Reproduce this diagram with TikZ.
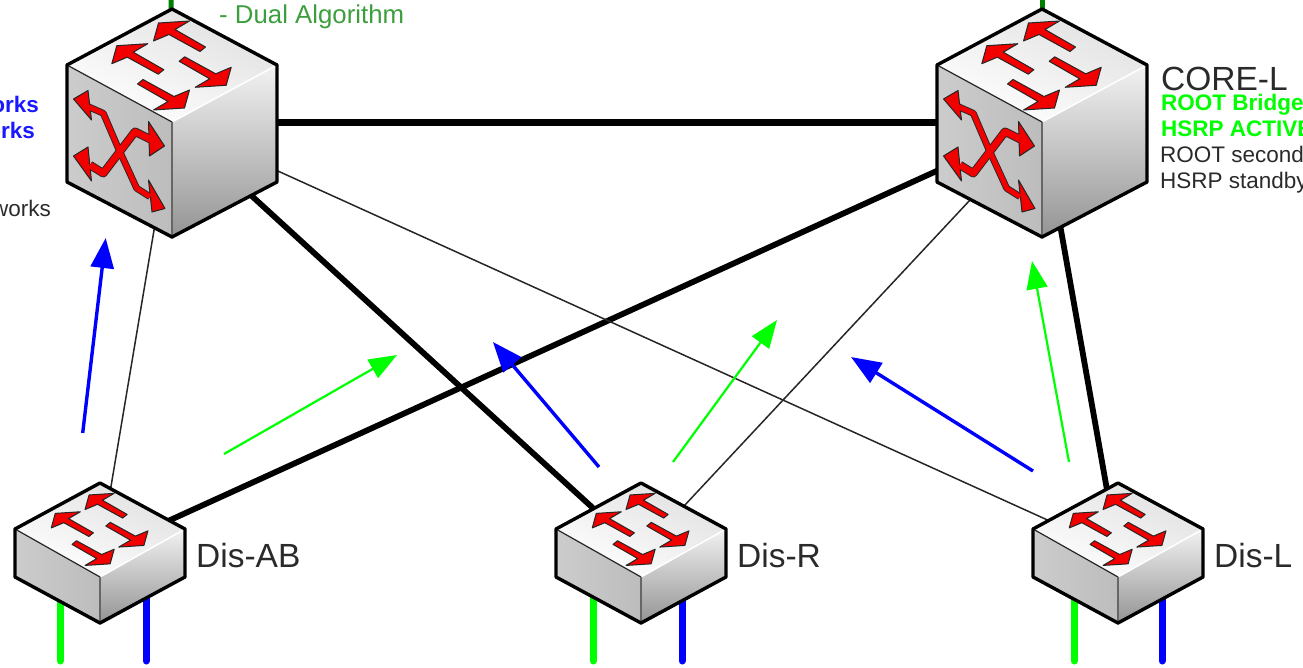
\documentclass[tikz,border=0pt]{standalone}
\usepackage{fontspec}
\setmainfont{Liberation Sans}
\usetikzlibrary{arrows.meta}
\definecolor{swred}{HTML}{F20000}
\definecolor{linegreen}{HTML}{00FF00}
\definecolor{linkblue}{HTML}{0000FF}
\definecolor{txtgreen}{HTML}{3C9E3C}
\definecolor{txtdark}{HTML}{2A2A2A}
\tikzset{
  swpoint/.style={inner sep=0pt,minimum size=0pt},
  trunk/.style={line width=5.8pt},
  uplink/.style={line width=1.5pt,black!85},
  stub/.style={line width=7pt,line cap=round},
  flowblue/.style={line width=3.4pt,linkblue,-{Triangle[length=30pt,width=23pt]}},
  flowgreen/.style={line width=2.2pt,linegreen,-{Triangle[length=28pt,width=21pt]}},
  redtip/.style={fill=swred,draw=black!85,line width=1pt,line join=round},
  bigname/.style={anchor=base west,inner sep=0pt,text=txtdark,font=\fontsize{33.5}{34}\selectfont},
  small/.style={inner sep=0pt,text=txtdark,font=\fontsize{22.5}{23}\selectfont},
  smallbold/.style={inner sep=0pt,font=\fontsize{22.5}{23}\selectfont\bfseries},
}
% #1 half width, #2 top, #3 side, #4 front, #5 low side, #6 bottom
\newcommand{\switchbody}[6]{
  \shade[top color=white!88!black,bottom color=white,shading angle=-25]
    (0,#2) -- (#1,#3) -- (0,#4) -- (-#1,#3) -- cycle;
  \shade[left color=black!20,middle color=black!7,right color=black!26]
    (-#1,#3) -- (0,#4) -- (0,#6) -- (-#1,#5) -- cycle;
  \shade[top color=black!5,middle color=black!16,bottom color=black!42]
    (#1,#3) -- (0,#4) -- (0,#6) -- (#1,#5) -- cycle;
  \draw[line width=1.5pt,white] (0,#4) -- (#1,#3);
  \draw[line width=1.2pt,black!85] (-#1,#3) -- (0,#4);
  \draw[line width=1.8pt,black!60] (0,#4) -- (0,#6);
  \draw[line width=3.4pt,line join=round] (0,#2) -- (#1,#3) -- (#1,#5) -- (0,#6) -- (-#1,#5) -- (-#1,#3) -- cycle;
}
\newcommand{\topshape}{(-13.5,-42) -- (17.5,-44) -- (3,-35.5) -- (33.5,-18) -- (28,-13.5) -- (-3,-30.5) -- (-18.5,-24) -- cycle}
\newcommand{\toparrows}{
  \foreach \sx/\sy in {0/0,-41.7/22.7}{
    \filldraw[redtip,shift={(\sx,\sy)}] \topshape;
    \filldraw[redtip,shift={(\sx+40.7,\sy-21.7)},scale=-1] \topshape;
  }
}
\newcommand{\crossA}{(-83.7,-16.3) -- (-68.7,-9.7) -- (-53.7,25.3) -- (-35.3,65.3) -- (-22,73.7)}
\newcommand{\crossB}{(-82,42) -- (-68.7,50.3) -- (-37,8.7) -- (-20.3,17)}
\tikzset{
  coreswitch/.pic={
    \switchbody{105}{-114}{-58}{-1}{59}{114}
    \begin{scope}[shift={(0,-58)}]
      \toparrows
    \end{scope}
    \draw[line width=6.8pt,line join=round,black!85] \crossA;
    \draw[line width=8.4pt,line join=round,black!85] \crossB;
    \filldraw[redtip] (-98.5,-24) -- (-84,-32.5) -- (-80.5,-3) -- cycle;
    \filldraw[redtip] (-98.5,33) -- (-84,24) -- (-80.5,58) -- cycle;
    \filldraw[redtip] (-7.5,23) -- (-23.5,-1.5) -- (-22.5,33) -- cycle;
    \filldraw[redtip] (-7,85.5) -- (-23.5,57) -- (-20,89) -- cycle;
    \draw[line width=5pt,line join=round,swred] \crossA;
    \draw[line width=6.6pt,line join=round,swred] \crossB;
  },
  disswitch/.pic={
    \switchbody{85}{-69}{-23}{25}{25}{71}
    \begin{scope}[shift={(0,-23)},scale=.81]
      \toparrows
    \end{scope}
  },
}
\begin{document}
\begin{tikzpicture}[x=1pt,y=-1pt]
    \useasboundingbox (0,0) rectangle (1303,668);
    \clip (0,0) rectangle (1303,668);
    \node[swpoint] (coreA) at (172,123) {};
    \node[swpoint] (coreL) at (1042,123) {};
    \node[swpoint] (disAB) at (100,552) {};
    \node[swpoint] (disR) at (641,552) {};
    \node[swpoint] (disL) at (1118,552) {};
    % links between the switches
    \draw[line width=7pt] (coreA) -- (coreL);
    \draw[trunk] (coreA) -- (disR);
    \draw[trunk] (coreL) -- (disAB);
    \draw[trunk] (coreL) -- (disL);
    \draw[uplink] (coreA) -- (disAB);
    \draw[uplink] (coreA) -- (disL);
    \draw[uplink] (coreL) -- (disR);
    % access lines
    \foreach \nm/\gx/\bx in {AB/60/146,R/593/682,L/1074/1162}{
      \coordinate (g\nm) at (\gx,590);
      \coordinate (gend\nm) at (\gx,661);
      \coordinate (b\nm) at (\bx,590);
      \coordinate (bend\nm) at (\bx,661);
      \draw[stub,linegreen] (g\nm) -- (gend\nm);
      \draw[stub,linkblue] (b\nm) -- (bend\nm);
    }
    \coordinate (topA) at (171,-3);
    \coordinate (topL) at (1042,-3);
    \draw[line width=5pt,green!50!black] (topA) -- (coreA);
    \draw[line width=5pt,green!50!black] (topL) -- (coreL);
    % the switches
    \pic at (coreA) {coreswitch};
    \pic at (coreL) {coreswitch};
    \pic at (disAB) {disswitch};
    \pic at (disR) {disswitch};
    \pic at (disL) {disswitch};
    % traffic arrows
    \coordinate (fa1) at (82.7,433);  \coordinate (fa2) at (105.7,238);
    \coordinate (fb1) at (224,454);   \coordinate (fb2) at (397,355);
    \coordinate (fc1) at (599,467);   \coordinate (fc2) at (493,342);
    \coordinate (fd1) at (673,462);   \coordinate (fd2) at (777,320);
    \coordinate (fe1) at (1033,471);  \coordinate (fe2) at (851,357);
    \coordinate (ff1) at (1069,462);  \coordinate (ff2) at (1032,261);
    \draw[flowblue] (fa1) -- (fa2);
    \draw[flowgreen] (fb1) -- (fb2);
    \draw[flowblue] (fc1) -- (fc2);
    \draw[flowgreen] (fd1) -- (fd2);
    \draw[flowblue] (fe1) -- (fe2);
    \draw[flowgreen] (ff1) -- (ff2);
    % labels
    \node[bigname] (lblAB) at (196,567) {Dis-AB};
    \node[bigname] (lblR) at (737,567) {Dis-R};
    \node[bigname] (lblL) at (1214,567) {Dis-L};
    \node[bigname] (lblcore) at (1161,91) {CORE-L};
    \node[smallbold,anchor=base west,text=linegreen] (rootb) at (1161,111) {ROOT Bridge};
    \node[smallbold,anchor=base west,text=linegreen] (hsrpa) at (1161,137) {HSRP ACTIVE};
    \node[small,anchor=base west] (roots) at (1160,163) {ROOT second};
    \node[small,anchor=base west] (hsrps) at (1160,189) {HSRP standby};
    \node[anchor=base west,inner sep=0pt,text=txtgreen,font=\fontsize{25.8}{26}\selectfont] (dual) at (219,24) {- Dual Algorithm};
    \node[smallbold,anchor=base east,text=linkblue!90!white] (nw1) at (39,113) {orks};
    \node[smallbold,anchor=base east,text=linkblue!90!white] (nw2) at (35,139) {orks};
    \node[small,anchor=base east] (nw3) at (51,217) {works};
\end{tikzpicture}
\end{document}
